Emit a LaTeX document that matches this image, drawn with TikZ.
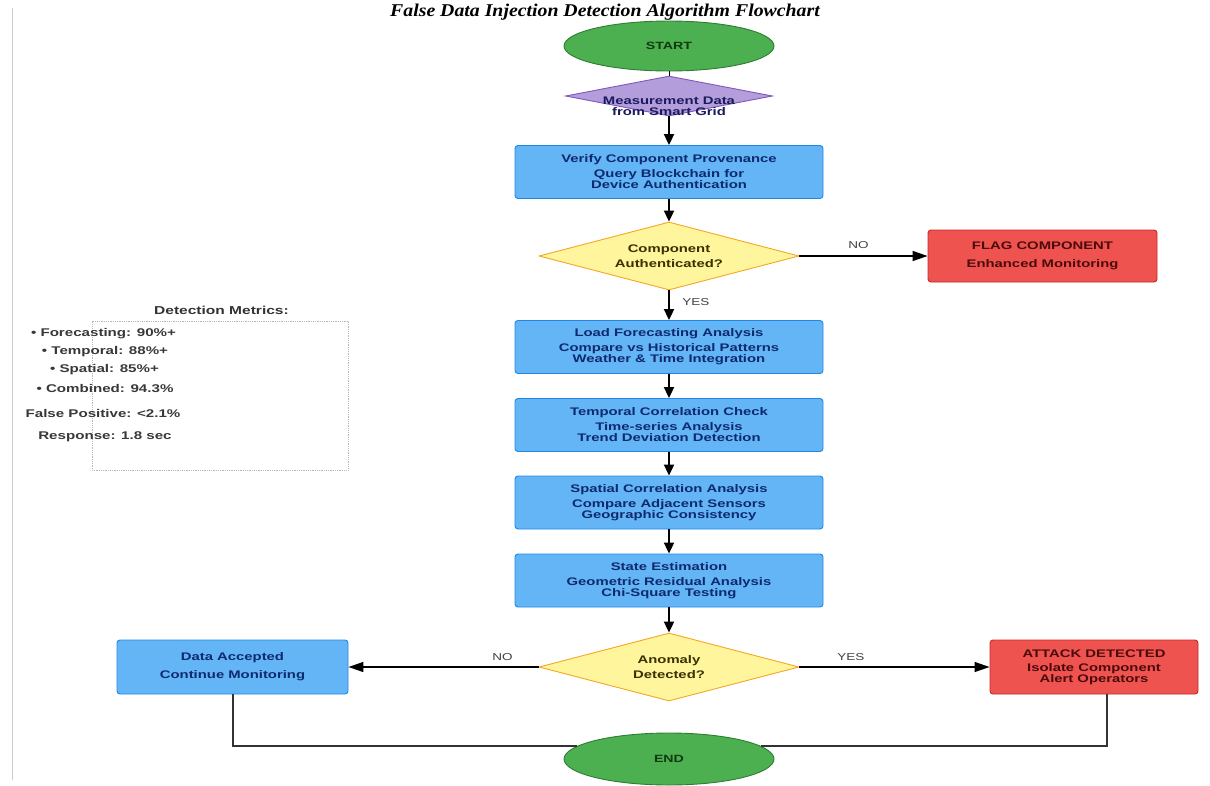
\documentclass[tikz,border=0pt]{standalone}
\usepackage{fontspec}
\setmainfont{Liberation Sans}[FakeStretch=1.35]
\newfontfamily\titlefont{Liberation Serif}[FakeStretch=1.1]
\usetikzlibrary{shapes.geometric,arrows.meta}
\definecolor{bfill}{HTML}{64B5F6}
\definecolor{bdraw}{HTML}{1E88E5}
\definecolor{btext}{HTML}{0D2A6E}
\definecolor{rfill}{HTML}{EF5350}
\definecolor{rdraw}{HTML}{C62828}
\definecolor{rtext}{HTML}{4A0A0A}
\definecolor{yfill}{HTML}{FFF59D}
\definecolor{ydraw}{HTML}{F5A623}
\definecolor{ytext}{HTML}{3A3000}
\definecolor{gfill}{HTML}{4CAF50}
\definecolor{gdraw}{HTML}{2E7D32}
\definecolor{gtext}{HTML}{0F3A12}
\definecolor{pfill}{HTML}{B39DDB}
\definecolor{pdraw}{HTML}{7E57C2}
\definecolor{ptext}{HTML}{1A1A5E}
\tikzset{
  bluebox/.style={draw=bdraw, fill=bfill, rounded corners=3pt, line width=0.9pt,
    minimum width=308pt, minimum height=53pt, inner sep=0pt, align=center,
    text=btext, font=\bfseries\fontsize{11}{11}\selectfont},
  redbox/.style={bluebox, draw=rdraw, fill=rfill, text=rtext},
  decision/.style={diamond, draw=ydraw, fill=yfill, line width=0.9pt, shape aspect=3.8,
    minimum width=260pt, minimum height=68pt, inner sep=0pt, align=center,
    text=ytext, font=\bfseries\fontsize{11}{12}\selectfont},
  terminal/.style={ellipse, draw=gdraw, fill=gfill, line width=0.9pt,
    minimum width=210pt, minimum height=50pt, inner sep=0pt,
    text=gtext, font=\bfseries\fontsize{10.5}{11}\selectfont},
  inputbox/.style={diamond, draw=pdraw, fill=pfill, line width=0.9pt, shape aspect=5.2,
    minimum width=207pt, minimum height=40pt, inner sep=0pt},
  inputtext/.style={align=center, text=ptext, font=\bfseries\fontsize{11}{11}\selectfont},
  flow/.style={line width=2pt, -{Triangle[width=10pt,length=11pt]}},
  side/.style={line width=1.4pt, -{Triangle[width=10pt,length=15pt]}},
  joinline/.style={line width=1.8pt, draw=black!80},
  lbl/.style={font=\fontsize{10}{11}\selectfont, text=black!75},
  metric/.style={font=\bfseries\fontsize{11.2}{12}\selectfont, text=black!78},
  metricsbox/.style={draw=black!28, densely dotted, line width=0.8pt,
    minimum width=256pt, minimum height=149pt, inner sep=0pt}
}
\begin{document}
\begin{tikzpicture}[x=1pt,y=-1pt]
\useasboundingbox (0,0) rectangle (1210,785);
% left border
\draw[black!20, line width=1pt] (12,8) -- (12,780);
% title
\node[anchor=base, inner sep=0pt, font=\titlefont\bfseries\itshape\fontsize{18}{19}\selectfont] (title) at (605,16) {False Data Injection Detection Algorithm Flowchart};

% main column
\node[terminal] (start) at (669,46) {START};
\node[inputbox] (meas) at (669,96) {};
\node[inputtext] (meastxt) at (669,106) {Measurement Data\\from Smart Grid};
\node[bluebox] (verify) at (669,172) {Verify Component Provenance\\[4pt]Query Blockchain for\\Device Authentication};
\node[decision] (auth) at (669,256) {Component\\[3pt]Authenticated?};
\node[redbox, minimum width=229pt, minimum height=52pt] (flag) at (1042.5,256) {FLAG COMPONENT\\[7pt]Enhanced Monitoring};
\node[bluebox] (load) at (669,347) {Load Forecasting Analysis\\[4pt]Compare vs Historical Patterns\\Weather \& Time Integration};
\node[bluebox] (temp) at (669,425) {Temporal Correlation Check\\[4pt]Time-series Analysis\\Trend Deviation Detection};
\node[bluebox] (spat) at (669,502.5) {Spatial Correlation Analysis\\[4pt]Compare Adjacent Sensors\\Geographic Consistency};
\node[bluebox] (state) at (669,580.5) {State Estimation\\[4pt]Geometric Residual Analysis\\Chi-Square Testing};
\node[decision] (anom) at (669,667) {Anomaly\\[3pt]Detected?};
\node[bluebox, minimum width=231pt, minimum height=54pt] (accept) at (232.5,667) {Data Accepted\\[7pt]Continue Monitoring};
\node[redbox, minimum width=208pt, minimum height=54pt] (attack) at (1094,667) {ATTACK DETECTED\\[3pt]Isolate Component\\Alert Operators};
\node[terminal, minimum height=52pt] (end) at (669,759) {END};

% connectors
\draw[line width=1pt] (start) -- (meas);
\draw[flow] (meas.south) -- (verify.north);
\draw[flow] (verify.south) -- (auth.north);
\draw[side] (auth.east) -- node[lbl, above=3pt, pos=0.46] (no1) {NO} (flag.west);
\draw[flow] (auth.south) -- node[lbl, right=9pt, pos=0.4] (yes1) {YES} (load.north);
\draw[flow] (load.south) -- (temp.north);
\draw[flow] (temp.south) -- (spat.north);
\draw[flow] (spat.south) -- (state.north);
\draw[flow] (state.south) -- (anom.north);
\draw[side] (anom.west) -- node[lbl, above=2pt, pos=0.19] (no2) {NO} (accept.east);
\draw[side] (anom.east) -- node[lbl, above=2pt, pos=0.27] (yes2) {YES} (attack.west);
\coordinate (lc) at (233,746);
\coordinate (rc) at (1107,746);
\draw[joinline] (accept.south -| lc) -- (lc |- end.172) -- (end.172);
\draw[joinline] (attack.south -| rc) -- (rc |- end.8) -- (end.8);

% detection metrics
\node[font=\bfseries\fontsize{11.5}{12}\selectfont, text=black!80] (mtitle) at (221.5,310) {Detection Metrics:};
\node[metricsbox] (mbox) at (220,395.5) {};
\node[metric] (m1) at (103.5,334) {• Forecasting: 90\%+};
\node[metric] (m2) at (105,352) {• Temporal: 88\%+};
\node[metric] (m3) at (104.5,370) {• Spatial: 85\%+};
\node[metric] (m4) at (105,388) {• Combined: 94.3\%};
\node[metric] (m5) at (103,413) {False Positive: <2.1\%};
\node[metric] (m6) at (105,437) {Response: 1.8 sec};
\end{tikzpicture}
\end{document}
